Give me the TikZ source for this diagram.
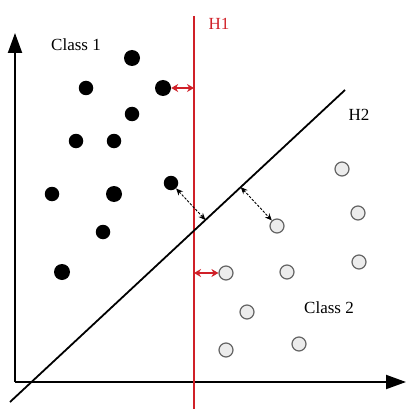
\documentclass[tikz,border=0pt]{standalone}
\usepackage{fontspec}
\setmainfont{Liberation Serif}
\usetikzlibrary{arrows.meta,calc}
\definecolor{hred}{RGB}{208,32,40}
\definecolor{cfill}{RGB}{236,236,236}
\definecolor{cdraw}{RGB}{100,100,100}
\begin{document}
\begin{tikzpicture}[x=1pt,y=-1pt,
  bigdot/.style={circle,fill=black,inner sep=0pt,minimum size=16pt},
  smalldot/.style={circle,fill=black,inner sep=0pt,minimum size=14.5pt},
  ring/.style={circle,fill=cfill,draw=cdraw,line width=1.2pt,inner sep=0pt,minimum size=14pt},
  axis/.style={line width=2pt,-{Triangle[length=20pt,width=14pt]}},
  redarr/.style={hred,line width=1.5pt,{Stealth[length=7pt,width=8pt]}-{Stealth[length=7pt,width=8pt]}},
  dasharr/.style={black,line width=0.9pt,dash pattern=on 2.5pt off 1.5pt,{Stealth[length=7pt,width=6pt]}-{Stealth[length=7pt,width=6pt]}},
  lbl/.style={font=\fontsize{17}{20}\selectfont,inner sep=0pt}]
\useasboundingbox (0,0) rectangle (407,409);
% axes
\coordinate (o) at (15,382);
\coordinate (ytip) at (15,33);
\coordinate (xtip) at (406,382);
\draw[axis] (o) -- (ytip);
\draw[axis] (o) -- (xtip);
% H1
\coordinate (h1a) at (194,16);
\coordinate (h1b) at (194,409);
\draw[hred,line width=2pt] (h1a) -- (h1b);
\node[lbl,text=hred] (h1) at (219,24) {H1};
% H2
\coordinate (h2a) at (10,402);
\coordinate (h2b) at (345,90);
\draw[line width=1.8pt] (h2a) -- (h2b);
\node[lbl] (h2) at (359,115) {H2};
% class labels
\node[lbl] (cl1) at (76,45) {Class 1};
\node[lbl] (cl2) at (329,308) {Class 2};
% class 1 dots
\node[bigdot] (d1) at (132,58) {};
\node[smalldot] (d2) at (86,88) {};
\node[bigdot] (d3) at (163,88) {};
\node[smalldot] (d4) at (132,114) {};
\node[smalldot] (d5) at (76,141) {};
\node[smalldot] (d6) at (114,141) {};
\node[smalldot] (d7) at (171,183) {};
\node[smalldot] (d8) at (52,194) {};
\node[bigdot] (d9) at (114,194) {};
\node[smalldot] (d10) at (103,232) {};
\node[bigdot] (d11) at (62,272) {};
% class 2 circles
\node[ring] (c1) at (342,169) {};
\node[ring] (c2) at (358,213) {};
\node[ring] (c3) at (277,226) {};
\node[ring] (c4) at (359,262) {};
\node[ring] (c5) at (226,273) {};
\node[ring] (c6) at (287,272) {};
\node[ring] (c7) at (247,312) {};
\node[ring] (c8) at (226,350) {};
\node[ring] (c9) at (299,344) {};
% margins for H1
\coordinate (m1) at (194,88);
\coordinate (m2) at (194,273);
\draw[redarr] (d3.east) -- (m1);
\draw[redarr] (m2) -- (c5.west);
% margins for H2
\coordinate (f1) at ($(h2a)!(d7)!(h2b)$);
\coordinate (f2) at ($(h2a)!(c3)!(h2b)$);
\draw[dasharr] (d7) -- (f1);
\draw[dasharr] (f2) -- (c3);
\end{tikzpicture}
\end{document}
